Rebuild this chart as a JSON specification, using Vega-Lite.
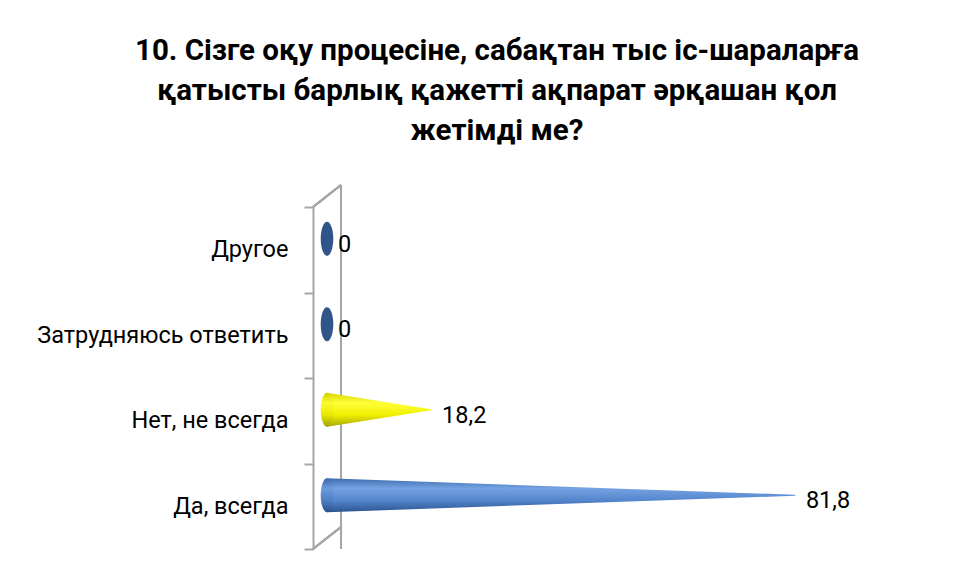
{
  "$schema": "https://vega.github.io/schema/vega-lite/v6.json",
  "width": 572,
  "height": 342,
  "autosize": {"type": "none"},
  "padding": {"left": 327, "top": 207, "right": 56, "bottom": 29},
  "background": "white",
  "title": {
    "text": ["10. Сізге оқу процесіне, сабақтан тыс іс-шараларға", "қатысты барлық қажетті ақпарат әрқашан қол", "жетімді ме?"],
    "anchor": "middle",
    "frame": "group",
    "dx": -116,
    "offset": 38,
    "fontSize": 29.5,
    "font": "Roboto",
    "fontWeight": "bold",
    "lineHeight": 40,
    "color": "black"
  },
  "data": {
    "values": [
      {"cat": "Да, всегда", "value": 81.8, "start": 0},
      {"cat": "Нет, не всегда", "value": 18.2, "start": 0},
      {"cat": "Затрудняюсь ответить", "value": 0, "start": 0},
      {"cat": "Другое", "value": 0, "start": 0}
    ]
  },
  "layer": [
    {
      "mark": {"type": "rule", "color": "#a6a6a6", "strokeWidth": 2, "yOffset": -22, "y2Offset": -22},
      "encoding": {
        "x": {"datum": 2.45, "type": "quantitative", "scale": {"domain": [0, 100]}, "axis": null}
      }
    },
    {
      "mark": {"type": "rule", "color": "#a6a6a6", "strokeWidth": 2, "y2Offset": -22},
      "encoding": {
        "x": {"datum": -2.45, "type": "quantitative", "scale": {"domain": [0, 100]}, "axis": null},
        "x2": {"datum": 2.45},
        "y": {"datum": "Другое", "type": "nominal", "bandPosition": 0, "title": null, "scale": {"domain": ["Другое", "Затрудняюсь ответить", "Нет, не всегда", "Да, всегда"], "paddingInner": 0, "paddingOuter": 0}},
        "y2": {"datum": "Другое", "bandPosition": 0}
      }
    },
    {
      "mark": {"type": "rule", "color": "#a6a6a6", "strokeWidth": 2, "y2Offset": -22},
      "encoding": {
        "x": {"datum": -2.45, "type": "quantitative", "scale": {"domain": [0, 100]}, "axis": null},
        "x2": {"datum": 2.45},
        "y": {"datum": "Да, всегда", "type": "nominal", "bandPosition": 1, "title": null},
        "y2": {"datum": "Да, всегда", "bandPosition": 1}
      }
    },
    {
      "transform": [{"filter": "datum.cat === 'Нет, не всегда'"}, {"fold": ["start", "value"], "as": ["end", "x"]}],
      "mark": {"type": "trail", "clip": true, "yOffset": -11,
        "fill": {"gradient": "linear", "x1": 0, "y1": 0, "x2": 0, "y2": 1, "stops": [
          {"offset": 0, "color": "#d8d800"}, {"offset": 0.3, "color": "#ffff3a"}, {"offset": 0.65, "color": "#f0f000"}, {"offset": 1, "color": "#a9a900"}]}},
      "encoding": {
        "x": {"field": "x", "type": "quantitative", "scale": {"domain": [0, 100]}, "axis": null},
        "y": {"field": "cat", "type": "nominal", "title": null},
        "detail": {"field": "cat"},
        "size": {"condition": {"test": "datum.end === 'start'", "value": 34}, "value": 0}
      }
    },
    {
      "transform": [{"filter": "datum.cat === 'Да, всегда'"}, {"fold": ["start", "value"], "as": ["end", "x"]}],
      "mark": {"type": "trail", "clip": true, "yOffset": -11,
        "fill": {"gradient": "linear", "x1": 0, "y1": 0, "x2": 0, "y2": 1, "stops": [
          {"offset": 0, "color": "#3e6db0"}, {"offset": 0.3, "color": "#74a2e2"}, {"offset": 0.65, "color": "#5586cd"}, {"offset": 1, "color": "#2b5390"}]}},
      "encoding": {
        "x": {"field": "x", "type": "quantitative", "scale": {"domain": [0, 100]}, "axis": null},
        "y": {"field": "cat", "type": "nominal", "title": null},
        "detail": {"field": "cat"},
        "size": {"condition": {"test": "datum.end === 'start'", "value": 34}, "value": 0}
      }
    },
    {
      "transform": [{"filter": "datum.value === 0"}],
      "mark": {"type": "point", "shape": "M0,-1A0.37,1 0 1,1 0,1A0.37,1 0 1,1 0,-1Z", "size": 1156, "filled": true, "opacity": 1, "strokeWidth": 0, "yOffset": -11, "fill": "#2f5589"},
      "encoding": {
        "x": {"field": "start", "type": "quantitative", "scale": {"domain": [0, 100]}, "axis": null},
        "y": {"field": "cat", "type": "nominal", "title": null}
      }
    },
    {
      "transform": [{"filter": "datum.cat === 'Да, всегда'"}],
      "mark": {"type": "point", "shape": "M0,-1A0.37,1 0 1,1 0,1A0.37,1 0 1,1 0,-1Z", "size": 1156, "filled": true, "opacity": 1, "strokeWidth": 0, "yOffset": -11,
        "fill": {"gradient": "linear", "x1": 0, "y1": 0, "x2": 0, "y2": 1, "stops": [
          {"offset": 0, "color": "#3a68aa"}, {"offset": 0.3, "color": "#6c9bdc"}, {"offset": 0.65, "color": "#4e7fc6"}, {"offset": 1, "color": "#284f8a"}]}},
      "encoding": {
        "x": {"field": "start", "type": "quantitative", "scale": {"domain": [0, 100]}, "axis": null},
        "y": {"field": "cat", "type": "nominal", "title": null}
      }
    },
    {
      "transform": [{"filter": "datum.cat === 'Нет, не всегда'"}],
      "mark": {"type": "point", "shape": "M0,-1A0.37,1 0 1,1 0,1A0.37,1 0 1,1 0,-1Z", "size": 1156, "filled": true, "opacity": 1, "strokeWidth": 0, "yOffset": -11,
        "fill": {"gradient": "linear", "x1": 0, "y1": 0, "x2": 0, "y2": 1, "stops": [
          {"offset": 0, "color": "#d0d000"}, {"offset": 0.3, "color": "#fbfb30"}, {"offset": 0.65, "color": "#e8e800"}, {"offset": 1, "color": "#a0a000"}]}},
      "encoding": {
        "x": {"field": "start", "type": "quantitative", "scale": {"domain": [0, 100]}, "axis": null},
        "y": {"field": "cat", "type": "nominal", "title": null}
      }
    },
    {
      "mark": {"type": "text", "align": "left", "baseline": "middle", "dx": 11, "dy": -5, "font": "Roboto", "fontSize": 23.5, "color": "black"},
      "encoding": {
        "x": {"field": "value", "type": "quantitative", "scale": {"domain": [0, 100]}, "axis": null},
        "y": {"field": "cat", "type": "nominal", "title": null},
        "text": {"field": "value", "type": "quantitative", "format": "~g"}
      }
    }
  ],
  "config": {
    "locale": {"number": {"decimal": ",", "thousands": " ", "grouping": [3], "currency": ["", ""]}},
    "view": {"stroke": null},
    "axisY": {
      "offset": 14,
      "domainColor": "#a6a6a6",
      "domainWidth": 2,
      "tickColor": "#a6a6a6",
      "tickWidth": 2,
      "tickSize": 9,
      "tickBand": "extent",
      "labelFont": "Roboto",
      "labelFontSize": 23.5,
      "labelColor": "black",
      "labelPadding": 16,
      "labelLimit": 400,
      "grid": false
    }
  }
}
